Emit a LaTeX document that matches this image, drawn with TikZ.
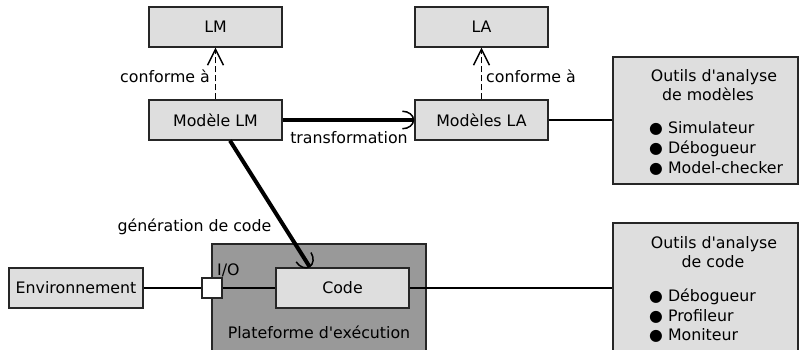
\documentclass[tikz,border=0pt]{standalone}
\usepackage{fontspec}
\setmainfont{DejaVu Sans}
\usetikzlibrary{arrows.meta,calc}
\definecolor{boxgray}{HTML}{DEDEDE}
\definecolor{platgray}{HTML}{999999}
\newcommand{\apos}{\textquotesingle}
\begin{document}
\begin{tikzpicture}[x=1pt,y=-1pt,
  every node/.style={font=\fontsize{15.8}{18}\selectfont},
  box/.style={draw=black!85, line width=1.3pt, fill=boxgray, minimum width=133pt, minimum height=40pt, inner sep=0pt},
  toolbox/.style={draw=black!85, line width=1.3pt, fill=boxgray, minimum width=185pt, inner sep=0pt},
  plat/.style={draw=black!85, line width=1.3pt, fill=platgray, minimum width=214pt, minimum height=160pt, inner sep=0pt},
  port/.style={draw=black!85, line width=1.3pt, fill=white, minimum size=20pt, inner sep=0pt},
  lbl/.style={inner sep=0pt},
  link/.style={line width=1.3pt},
  conf/.style={line width=1.3pt, dashed, dash pattern=on 6pt off 3pt, -{Straight Barb[length=16pt,width=16pt,line width=1.4pt]}},
  bigarrow/.style={line width=4pt, -{Arc Barb[length=12pt,width=19pt,line width=1.5pt]}}
]
\useasboundingbox (0,0) rectangle (801,350);
\clip (0,0) rectangle (801,350);

% boxes
\node[box] (lm) at (215.5,27) {LM};
\node[box] (la) at (481.5,27) {LA};
\node[box] (mlm) at (215.5,120) {Modèle LM};
\node[box] (mla) at (481.5,120) {Modèles LA};
\node[toolbox, minimum height=127pt] (tm) at (705.5,120.5) {};
\node[toolbox, minimum height=160pt] (tc) at (705.5,303) {};
\node[plat] (pf) at (319,324) {};
\node[box] (code) at (342.5,288) {Code};
\node[box, minimum width=134pt] (env) at (76,288) {Environnement};
\node[port] (io) at (212,288) {};

% texts in tool boxes
\node[lbl, anchor=base] (tm1) at (714,81.5) {Outils d\apos analyse};
\node[lbl, anchor=base] (tm2) at (708,101) {de modèles};
\node[lbl, anchor=base west] (tm3) at (649,134) {● Simulateur};
\node[lbl, anchor=base west] (tm4) at (649,154) {● Débogueur};
\node[lbl, anchor=base west] (tm5) at (649,173.5) {● Model-checker};
\node[lbl, anchor=base] (tc1) at (714,248) {Outils d\apos analyse};
\node[lbl, anchor=base] (tc2) at (713,267.5) {de code};
\node[lbl, anchor=base west] (tc3) at (649,301) {● Débogueur};
\node[lbl, anchor=base west] (tc4) at (649,321) {● Profileur};
\node[lbl, anchor=base west] (tc5) at (649,340.5) {● Moniteur};

% labels
\node[lbl, anchor=base east] (c1) at (210,83) {conforme à};
\node[lbl, anchor=base west] (c2) at (486,83) {conforme à};
\node[lbl, anchor=base] (tr) at (349,143.5) {transformation};
\node[lbl, anchor=base] (gen) at (194.5,231) {génération de code};
\node[lbl, anchor=base west] (iol) at (217,275) {I/O};
\node[lbl, anchor=base] (pfl) at (319,338) {Plateforme d\apos exécution};

% connectors
\draw[conf] (mlm) -- (lm);
\draw[conf] (mla) -- (la);
\draw[bigarrow] (mlm) -- (mla);
\draw[bigarrow] ($(mlm.south)+(14.5,0)$) -- ($(code.north)+(-32.5,0)$);
\draw[link] (mla) -- (mla -| tm.west);
\draw[link] (env) -- (io);
\draw[link] (io) -- (code);
\draw[link] (code) -- (code -| tc.west);
\end{tikzpicture}
\end{document}
